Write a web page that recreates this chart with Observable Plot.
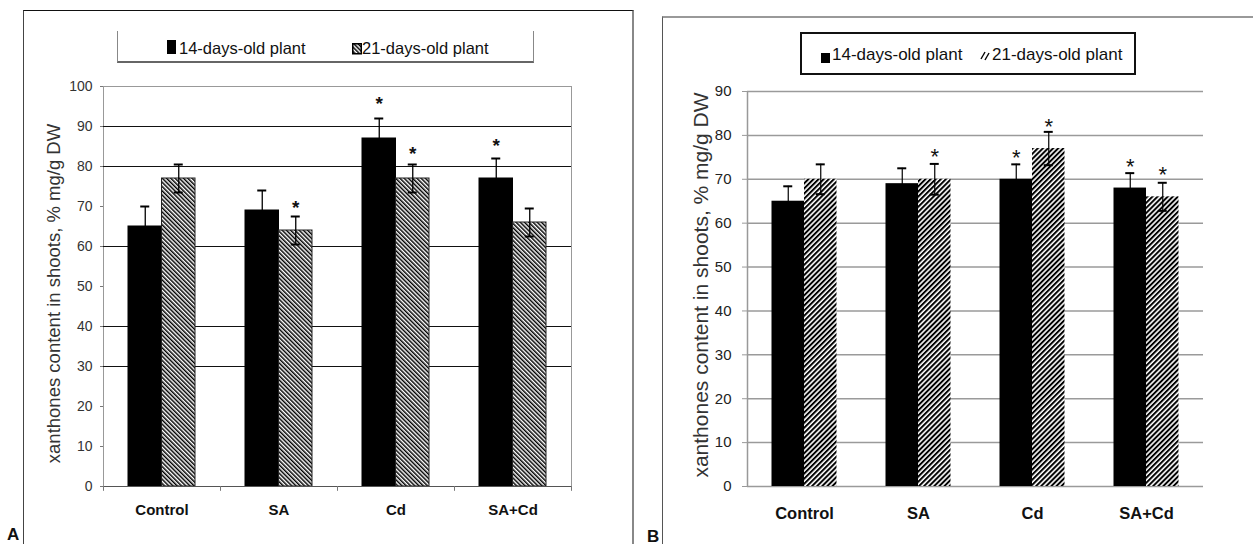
<!DOCTYPE html>
<html>
<head>
<meta charset="utf-8">
<script src="https://cdn.jsdelivr.net/npm/d3@7"></script>
<script src="https://cdn.jsdelivr.net/npm/@observablehq/plot@0.6"></script>
<style>
  html, body { margin: 0; padding: 0; background: #fff; }
  body { width: 1253px; height: 544px; position: relative; overflow: hidden;
         font-family: "Liberation Sans", Arial, sans-serif; color: #111; }
  .abs { position: absolute; }
  .leg { position: absolute; white-space: nowrap; line-height: 1; }
</style>
</head>
<body>
<!-- panel frames -->
<div class="abs" style="left:23px;top:10px;width:608px;height:540px;border-top:1px solid #111;border-left:1px solid #444;border-right:2px solid #888;"></div>
<div class="abs" style="left:662px;top:16px;width:600px;height:540px;border-top:2px solid #999;border-left:1px solid #555;"></div>

<div id="A" class="abs" style="left:0;top:0;"></div>
<div id="B" class="abs" style="left:640px;top:0;"></div>

<!-- legend A -->
<div class="abs" style="left:117px;top:31px;width:415px;height:30px;border-left:1px solid #888;border-right:1px solid #888;border-bottom:2px solid #666;"></div>
<div id="legA"></div>
<!-- legend B -->
<div class="abs" style="left:800px;top:32px;width:332px;height:39px;border:2px solid #111;"></div>
<div id="legB"></div>

<div class="abs" style="left:7px;top:525px;font:bold 17px 'Liberation Sans',Arial,sans-serif;">A</div>
<div class="abs" style="left:647px;top:527px;font:bold 17px 'Liberation Sans',Arial,sans-serif;">B</div>

<script>
// ---------------- data ----------------
const categories = ["Control", "SA", "Cd", "SA+Cd"];
const seriesNames = ["14-days-old plant", "21-days-old plant"];
const yLabel = "xanthones content in shoots, % mg/g DW";

// Panel A
const a14 = [65, 69, 87, 77];
const a14err = [5, 5, 5, 5];
const a21 = [77, 64, 77, 66];
const a21err = [3.5, 3.5, 3.5, 3.5];
const aStar14 = [null, null, 97.5, 87];
const aStar21 = [null, 71.5, 85, null];
const aTicks = [0, 10, 20, 30, 40, 50, 60, 70, 80, 90, 100];
const aGrid = [30, 40, 60, 80, 90];

// Panel B
const b14 = [65, 69, 70, 68];
const b14err = [3.4, 3.5, 3.4, 3.4];
const b21 = [70, 70, 77, 66];
const b21err = [3.4, 3.5, 3.8, 3.2];
const bStar14 = [null, null, 76.7, 74.7];
const bStar21 = [null, 76.8, 83.8, 72.7];
const bTicks = [0, 10, 20, 30, 40, 50, 60, 70, 80, 90];
const bGrid = [0, 10, 20, 30, 40, 50, 60, 70, 80, 90];

// ---------------- helpers ----------------
const NS = "http://www.w3.org/2000/svg";
function addPattern(svg, id, angle, period, thick) {
  let defs = svg.querySelector("defs");
  if (!defs) { defs = document.createElementNS(NS, "defs"); svg.insertBefore(defs, svg.firstChild); }
  const p = document.createElementNS(NS, "pattern");
  p.setAttribute("id", id);
  p.setAttribute("patternUnits", "userSpaceOnUse");
  p.setAttribute("width", period);
  p.setAttribute("height", period);
  p.setAttribute("patternTransform", `rotate(${angle})`);
  const bg = document.createElementNS(NS, "rect");
  bg.setAttribute("width", period); bg.setAttribute("height", period); bg.setAttribute("fill", "#fff");
  const r = document.createElementNS(NS, "rect");
  r.setAttribute("width", thick); r.setAttribute("height", period); r.setAttribute("fill", "#000");
  p.appendChild(bg); p.appendChild(r);
  defs.appendChild(p);
}

function rows(v, e, st) {
  return categories.map((c, i) => ({cat: c, v: v[i], e: e[i], star: st[i]}));
}

function panel(cfg) {
  const bw = (cfg.width - cfg.marginLeft - cfg.marginRight) / categories.length;
  const barW = cfg.barW, capW = cfg.capW;
  const series = [
    {data: rows(cfg.v14, cfg.e14, cfg.s14), fill: "#000", stroke: cfg.stroke14, side: -1},
    {data: rows(cfg.v21, cfg.e21, cfg.s21), fill: `url(#${cfg.pat})`, stroke: cfg.stroke21, side: 1}
  ];
  const marks = [];
  marks.push(Plot.ruleY(cfg.grid, {stroke: cfg.gridColor, strokeWidth: cfg.gridWidth}));
  for (const s of series) {
    marks.push(Plot.barY(s.data, {
      x: "cat", y: "v", fill: s.fill, stroke: s.stroke, strokeWidth: 1,
      insetLeft: s.side < 0 ? bw / 2 - barW : bw / 2,
      insetRight: s.side < 0 ? bw / 2 : bw / 2 - barW
    }));
  }
  for (const s of series) {
    const c = s.side * barW / 2;
    marks.push(Plot.ruleX(s.data, {x: "cat", y1: d => d.v - d.e, y2: d => d.v + d.e, dx: c, stroke: "#000", strokeWidth: cfg.errW}));
    const il = bw / 2 + c - capW / 2, ir = bw / 2 - c - capW / 2;
    marks.push(Plot.tickY(s.data, {x: "cat", y: d => d.v + d.e, insetLeft: il, insetRight: ir, stroke: "#000", strokeWidth: cfg.capStroke}));
    marks.push(Plot.tickY(s.data, {x: "cat", y: d => d.v - d.e, insetLeft: il, insetRight: ir, stroke: "#000", strokeWidth: cfg.capStroke}));
    marks.push(Plot.text(s.data.filter(d => d.star != null), {
      x: "cat", y: "star", text: () => "*", dx: c, dy: cfg.starDy,
      fontSize: cfg.starSize, fontWeight: cfg.starWeight, fill: "#111",
      fontFamily: "'Liberation Sans', Arial, sans-serif"
    }));
  }
  return {bw, marks};
}

// ---------------- Panel A ----------------
{
  const cfg = {width: 640, height: 544, marginLeft: 103, marginRight: 69, marginTop: 86, marginBottom: 58,
    barW: 33.5, capW: 9, pat: "hatchA", stroke14: "#000", stroke21: "#222",
    v14: a14, e14: a14err, s14: aStar14, v21: a21, e21: a21err, s21: aStar21,
    grid: aGrid, gridColor: "#111", gridWidth: 1, errW: 1.3, capStroke: 2,
    starSize: 19, starWeight: "bold", starDy: 7};
  const {bw, marks} = panel(cfg);
  const svg = Plot.plot({
    width: cfg.width, height: cfg.height,
    marginLeft: cfg.marginLeft, marginRight: cfg.marginRight, marginTop: cfg.marginTop, marginBottom: cfg.marginBottom,
    style: {fontFamily: "'Liberation Sans', Arial, sans-serif", background: "transparent", overflow: "visible"},
    x: {domain: categories, padding: 0},
    y: {domain: [0, 100]},
    marks: [
      Plot.frame({stroke: "#999"}),
      ...marks,
      Plot.ruleY([0], {stroke: "#555"}),
      Plot.ruleX(categories, {x: d => d, y1: 0, y2: -1.2, dx: -bw / 2, stroke: "#777"}),
      Plot.ruleX(categories.slice(-1), {x: d => d, y1: 0, y2: -1.2, dx: bw / 2, stroke: "#777"}),
      Plot.axisY(aTicks, {tickSize: 3, tickPadding: 8, label: null, fontSize: 14, fill: "#333", stroke: "#777"}),
      Plot.axisX({tickSize: 0, tickPadding: 18, label: null, fontSize: 15, fontWeight: "bold", fill: "#111"}),
      Plot.text([yLabel], {frameAnchor: "left", textAnchor: "middle", rotate: -90, dx: -49, dy: 7, text: d => d,
        fontSize: 18.5, fill: "#333"})
    ]
  });
  addPattern(svg, "hatchA", -45, 3, 1.5);
  document.getElementById("A").appendChild(svg);
}

// ---------------- Panel B ----------------
{
  const cfg = {width: 613, height: 544, marginLeft: 107, marginRight: 50, marginTop: 91, marginBottom: 58,
    barW: 32.5, capW: 9, pat: "hatchB", stroke14: "none", stroke21: "none",
    v14: b14, e14: b14err, s14: bStar14, v21: b21, e21: b21err, s21: bStar21,
    grid: bGrid, gridColor: "#9a9a9a", gridWidth: 1.5, errW: 1.2, capStroke: 2,
    starSize: 22, starWeight: "normal", starDy: 8};
  const {bw, marks} = panel(cfg);
  const svg = Plot.plot({
    width: cfg.width, height: cfg.height,
    marginLeft: cfg.marginLeft, marginRight: cfg.marginRight, marginTop: cfg.marginTop, marginBottom: cfg.marginBottom,
    style: {fontFamily: "'Liberation Sans', Arial, sans-serif", background: "transparent", overflow: "visible"},
    x: {domain: categories, padding: 0},
    y: {domain: [0, 90]},
    marks: [
      Plot.ruleX(categories.slice(0, 1), {x: d => d, dx: -bw / 2, y1: 0, y2: 90, stroke: "#999", strokeWidth: 1.5}),
      ...marks,
      Plot.axisY(bTicks, {tickSize: 5, tickPadding: 11, label: null, fontSize: 15, fill: "#222", stroke: "#999"}),
      Plot.axisX({tickSize: 0, tickPadding: 21, label: null, fontSize: 16.5, fontWeight: "bold", fill: "#111"}),
      Plot.text([yLabel], {frameAnchor: "left", textAnchor: "middle", rotate: -90, dx: -46, dy: -4, text: d => d,
        fontSize: 21, fill: "#333"})
    ]
  });
  addPattern(svg, "hatchB", 45, 3.6, 2);
  document.getElementById("B").appendChild(svg);
}

// ---------------- legends ----------------
function legendItem(parent, x, y, markerSvg, text, textX, fontSize, textTop) {
  const m = document.createElement("div");
  m.className = "leg";
  m.style.left = x + "px"; m.style.top = y + "px";
  m.innerHTML = markerSvg;
  parent.appendChild(m);
  const t = document.createElement("div");
  t.className = "leg";
  t.style.left = textX + "px"; t.style.top = textTop + "px";
  t.style.fontSize = fontSize + "px";
  t.textContent = text;
  parent.appendChild(t);
}
const legA = document.getElementById("legA");
legendItem(legA, 167, 40,
  `<svg width="10" height="15"><rect x="0" y="0" width="9" height="14" fill="#000"/></svg>`,
  seriesNames[0], 179, 16.5, 40);
legendItem(legA, 352, 42,
  `<svg width="11" height="12"><defs><pattern id="lgA" patternUnits="userSpaceOnUse" width="3" height="3" patternTransform="rotate(-45)"><rect width="3" height="3" fill="#fff"/><rect width="1.5" height="3" fill="#000"/></pattern></defs><rect x="0.75" y="0.75" width="8.5" height="10" fill="url(#lgA)" stroke="#000" stroke-width="1.5"/></svg>`,
  seriesNames[1], 362, 16.5, 40);
const legB = document.getElementById("legB");
legendItem(legB, 821, 51,
  `<svg width="10" height="11"><rect x="0" y="0" width="9" height="10" fill="#000"/></svg>`,
  seriesNames[0], 832, 17, 46);
legendItem(legB, 980, 48,
  `<svg width="11" height="11"><line x1="1" y1="9" x2="5" y2="2" stroke="#000" stroke-width="1.4"/><line x1="5" y1="10" x2="9" y2="3" stroke="#000" stroke-width="1.4"/></svg>`,
  seriesNames[1], 992, 17, 46);
</script>
</body>
</html>
